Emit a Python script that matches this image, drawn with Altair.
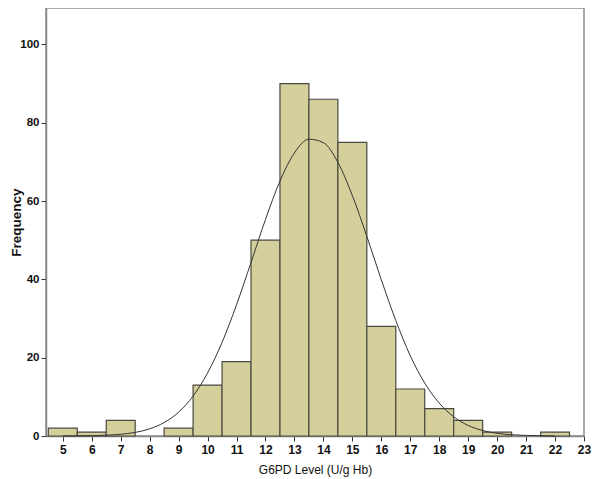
import altair as alt
import pandas as pd

# Histogram bins (centre of each 1-unit bin) and counts
bin_centers = [5, 6, 7, 8, 9, 10, 11, 12, 13, 14, 15, 16, 17, 18, 19, 20, 21, 22]
bin_counts = [2, 1, 4, 0, 2, 13, 19, 50, 90, 86, 75, 28, 12, 7, 4, 1, 0, 1]

# Fitted normal curve
curve_x = [5, 5.5, 6, 6.5, 7, 7.5, 8, 8.5, 9, 9.5, 10, 10.5, 11, 11.5, 12, 12.5,
           13, 13.5, 14, 14.5, 15, 15.5, 16, 16.5, 17, 17.5, 18, 18.5, 19, 19.5,
           20, 20.5, 21, 21.5, 22]
curve_y = [0.01, 0.03, 0.08, 0.2, 0.44, 0.92, 1.83, 3.44, 6.09, 10.2, 16.1, 23.9,
           33.5, 44.3, 55.3, 65.1, 72.3, 75.8, 74.9, 69.9, 61.4, 51.0, 39.9, 29.5,
           20.5, 13.5, 8.4, 4.9, 2.7, 1.4, 0.69, 0.32, 0.14, 0.06, 0.02]

x_ticks = list(range(5, 24))
y_ticks = [0, 20, 40, 60, 80, 100]

bars = pd.DataFrame({"center": bin_centers, "count": bin_counts})
bars["start"] = bars["center"] - 0.5
bars["end"] = bars["center"] + 0.5
bars = bars[bars["count"] > 0]

curve = pd.DataFrame({"x": curve_x, "y": curve_y})

xscale = alt.Scale(domain=[4.42, 23], nice=False, zero=False)
yscale = alt.Scale(domain=[0, 109.3], nice=False)

xaxis = alt.Axis(values=x_ticks, tickCount=40, format="d", title="G6PD Level (U/g Hb)", grid=False,
                 labelFontWeight="bold", labelFontSize=12, labelColor="#111",
                 titleFontWeight="normal", titleFontSize=12, titleColor="#111",
                 tickSize=5, tickColor="#333", domainColor="#888", domainWidth=1.5,
                 labelPadding=3, titlePadding=9, labelFlush=False, labelOverlap=False)
yaxis = alt.Axis(values=y_ticks, tickCount=20, format="d", title="Frequency", grid=False,
                 labelFontWeight="bold", labelFontSize=11.5, labelColor="#111",
                 titleFontWeight="bold", titleFontSize=13.5, titleColor="#111",
                 tickSize=5, tickColor="#333", domainColor="#888", domainWidth=1.5,
                 labelPadding=2, titleX=-37, titleY=214, titleAngle=-90,
                 titleBaseline="top", titleAlign="center", labelOverlap=False)

hist = alt.Chart(bars).mark_rect(fill="#D4CF9B", stroke="#4a4a40", strokeWidth=1.2).encode(
    x=alt.X("start:Q", scale=xscale, axis=xaxis),
    x2="end:Q",
    y=alt.Y("count:Q", scale=yscale, axis=yaxis),
    y2=alt.datum(0),
)

line = alt.Chart(curve).mark_line(color="#333333", strokeWidth=1, interpolate="monotone").encode(
    x=alt.X("x:Q", scale=xscale, axis=xaxis),
    y=alt.Y("y:Q", scale=yscale, axis=yaxis),
)

chart = (hist + line).properties(
    width=538, height=428,
    autosize=alt.AutoSizeParams(type="none"),
    padding={"left": 38, "top": 0, "right": 8, "bottom": 42},
).configure(
    font="Liberation Sans",
).configure_axis(
    labelOverlap=False,
).configure_view(
    stroke="#8c8c8c", strokeWidth=1.5,
)

chart.save("out.html", embed_options={"renderer": "svg", "actions": False})
